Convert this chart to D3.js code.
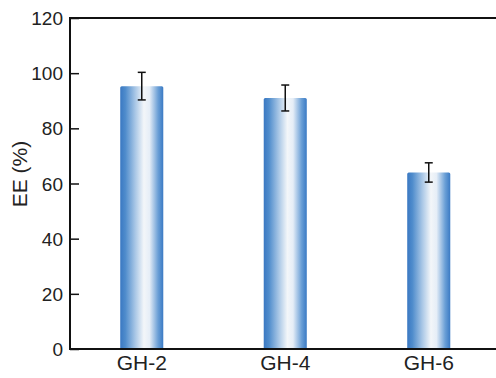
<!DOCTYPE html>
<html>
<head>
<meta charset="utf-8">
<script src="https://cdn.jsdelivr.net/npm/d3@7"></script>
<style>
  body { margin: 0; background: #fff; }
  svg text { font-family: "Liberation Sans", Arial, sans-serif; fill: #222; }
</style>
</head>
<body>
<div id="svgcontainer"></div>
<script>
var groups = ["GH-2", "GH-4", "GH-6"];
var ee = [95.3, 91.0, 64.0];
var err = [5.0, 4.7, 3.5];
var yTicks = [0, 20, 40, 60, 80, 100, 120];

var width = 496, height = 378;
var mLeft = 70, mTop = 18, mBottom = 349, mRight = 500.5;

var svg = d3.select("#svgcontainer")
    .append("svg")
    .attr("width", width)
    .attr("height", height);

// bar gradient, blue edges and a pale middle
var grad = svg.append("defs").append("linearGradient")
    .attr("id", "barGrad")
    .attr("x1", "0%").attr("x2", "100%")
    .attr("y1", "0%").attr("y2", "0%");
[[0, "#3a78c2"], [0.12, "#4f8ccc"], [0.35, "#a9c7e6"], [0.55, "#f3f6f9"],
 [0.68, "#e6eef7"], [0.88, "#6a9fd6"], [1, "#3a7ac4"]].forEach(function(s){
  grad.append("stop").attr("offset", s[0]).attr("stop-color", s[1]);
});

var x = d3.scaleBand()
    .domain(groups)
    .range([mLeft, mRight])
    .paddingInner(0.7)
    .paddingOuter(0.35);

var y = d3.scaleLinear()
    .domain([0, 120])
    .range([mBottom, mTop]);

// bars
svg.selectAll("rect.bar")
  .data(groups)
  .enter().append("rect")
    .attr("class", "bar")
    .attr("x", function(d){ return x(d); })
    .attr("y", function(d, i){ return y(ee[i]); })
    .attr("width", x.bandwidth())
    .attr("height", function(d, i){ return y(0) - y(ee[i]); })
    .attr("rx", 1.5)
    .style("fill", "url(#barGrad)");

// error bars
var cap = 4;
groups.forEach(function(g, i){
  var cx = x(g) + x.bandwidth() / 2;
  var yt = y(ee[i] + err[i]), yb = y(ee[i] - err[i]);
  var eb = svg.append("g").style("stroke", "#111").style("stroke-width", 1.5);
  eb.append("line").attr("x1", cx).attr("x2", cx).attr("y1", yt).attr("y2", yb);
  eb.append("line").attr("x1", cx - cap).attr("x2", cx + cap).attr("y1", yt).attr("y2", yt);
  eb.append("line").attr("x1", cx - cap).attr("x2", cx + cap).attr("y1", yb).attr("y2", yb);
});

// y axis, ticks pointing inward
var yAxis = svg.append("g")
    .attr("transform", "translate(" + mLeft + ",0)")
    .call(d3.axisRight(y).tickValues(yTicks).tickSize(9).tickFormat(d3.format("d")));
yAxis.select(".domain").remove();
yAxis.selectAll("line").style("stroke", "#111").style("stroke-width", 1.5);
yAxis.selectAll("text")
    .attr("x", -7)
    .attr("dy", "0.35em")
    .style("text-anchor", "end")
    .style("font-size", "19px");

// frame lines: left, top, bottom
svg.append("line").attr("x1", mLeft).attr("x2", mLeft).attr("y1", mTop).attr("y2", mBottom)
    .style("stroke", "#111").style("stroke-width", 2);
svg.append("line").attr("x1", mLeft - 1).attr("x2", width).attr("y1", mTop).attr("y2", mTop)
    .style("stroke", "#111").style("stroke-width", 2);
svg.append("line").attr("x1", mLeft - 1).attr("x2", width).attr("y1", mBottom).attr("y2", mBottom)
    .style("stroke", "#111").style("stroke-width", 2);

// x labels
var xAxis = svg.append("g")
    .attr("transform", "translate(0," + mBottom + ")")
    .call(d3.axisBottom(x).tickSize(0).tickPadding(6));
xAxis.select(".domain").remove();
xAxis.selectAll("text").style("font-size", "21px").attr("dy", "0.71em");

// y label
svg.append("text")
    .attr("transform", "translate(27,174) rotate(-90)")
    .attr("text-anchor", "middle")
    .style("font-size", "21px")
    .text("EE (%)");
</script>
</body>
</html>
